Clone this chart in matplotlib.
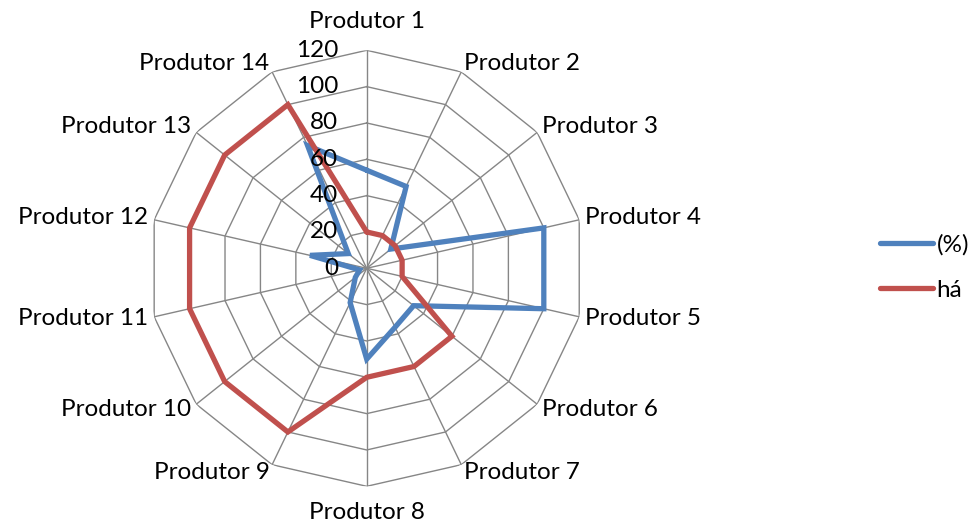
import numpy as np
import matplotlib as mpl
mpl.use('Agg')
import matplotlib.pyplot as plt

plt.rcParams['font.family'] = ['Lato', 'DejaVu Sans']

# data
categories = ['Produtor %d' % i for i in range(1, 15)]
pct = [54, 50, 17, 100, 100, 33, 36, 50, 21, 8, 4, 32, 13, 75]
ha_area = [20, 20, 20, 20, 20, 60, 60, 60, 100, 100, 100, 100, 100, 100]
rticks = [0, 20, 40, 60, 80, 100, 120]
series_names = ['(%)', 'há']

blue = '#4F81BD'
red = '#C0504D'
grid_col = '#868686'
fs = 17.5

n = len(categories)
theta = np.linspace(0, 2*np.pi, n, endpoint=False)
theta_c = np.append(theta, theta[0])

fig = plt.figure(figsize=(9.79, 5.27), dpi=100)
W, H = 979, 527
cx, cy, R = 366.7, 268.3, 218
ax = fig.add_axes([(cx-R)/W, (H-cy-R)/H, 2*R/W, 2*R/H], projection='polar')
ax.set_theta_zero_location('N')
ax.set_theta_direction(-1)
ax.set_ylim(0, rticks[-1])
ax.grid(False)
ax.spines['polar'].set_visible(False)
ax.set_xticks([])
ax.set_yticks([])
ax.patch.set_alpha(0)

# polygon grid + spokes
for r in rticks[1:]:
    ax.plot(theta_c, [r]*(n+1), color=grid_col, lw=1.0, zorder=1)
for t in theta:
    ax.plot([t, t], [0, rticks[-1]], color=grid_col, lw=1.0, zorder=1)

# series
ax.plot(theta_c, pct + pct[:1], color=blue, lw=3.8, zorder=3,
        label=series_names[0], solid_joinstyle='miter', solid_capstyle='round')
ax.plot(theta_c, ha_area + ha_area[:1], color=red, lw=3.8, zorder=3,
        label=series_names[1], solid_joinstyle='miter', solid_capstyle='round')

# radial value labels
for r in rticks:
    ax.annotate(str(r), xy=(0, r), xytext=(-20.5, 0), textcoords='offset points',
                ha='right', va='center', fontsize=fs, zorder=4)

# category labels
for t, lab in zip(theta, categories):
    s, c = np.sin(t), np.cos(t)
    if abs(s) < 0.1:
        ha = 'center'
        va = 'bottom' if c > 0 else 'top'
        off = (0, 13 if c > 0 else -11)
    else:
        ha = 'left' if s > 0 else 'right'
        va = 'center'
        off = (4.5*s, 6.5*c)
    ax.annotate(lab, xy=(t, rticks[-1]), xytext=off, textcoords='offset points',
                ha=ha, va=va, fontsize=fs, annotation_clip=False)

fig.legend(loc='center left', bbox_to_anchor=(880/W, 1-267.5/H), frameon=False,
           fontsize=fs, handlelength=2.2, handletextpad=0.12, labelspacing=1.0,
           borderpad=0, borderaxespad=0)

plt.savefig('out.png', dpi=100)
